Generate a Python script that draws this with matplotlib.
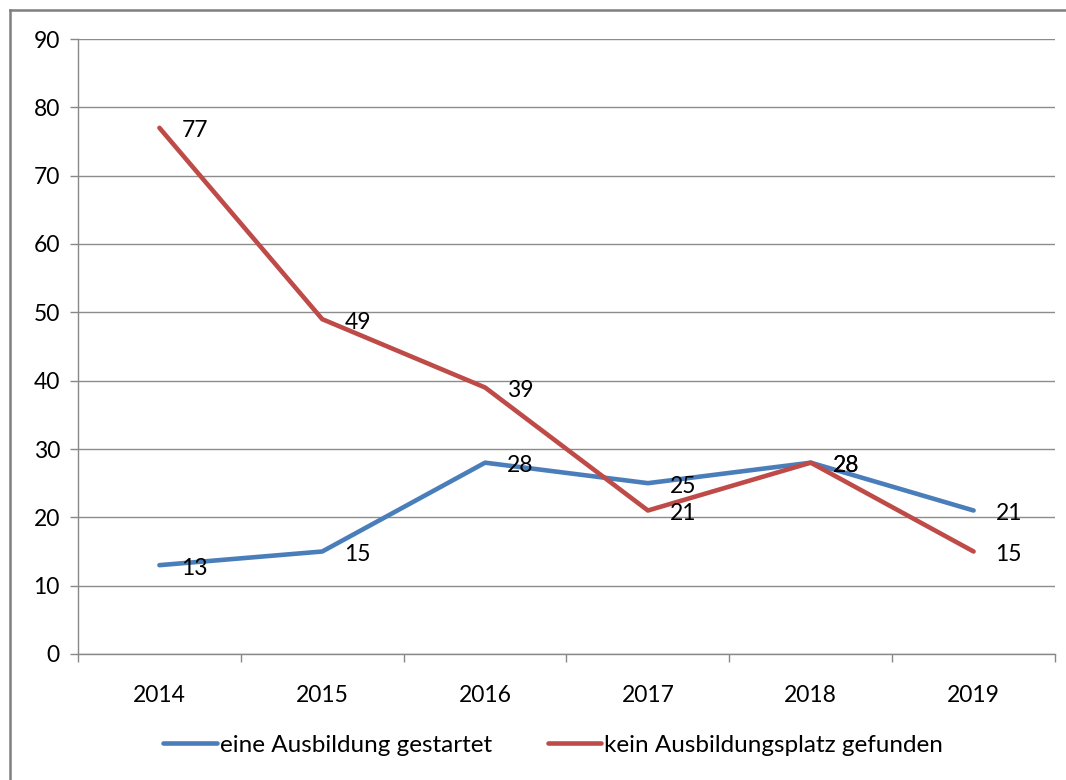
import matplotlib.pyplot as plt
from matplotlib.lines import Line2D

years = ['2014', '2015', '2016', '2017', '2018', '2019']
gestartet = [13, 15, 28, 25, 28, 21]
kein_platz = [77, 49, 39, 21, 28, 15]
labels = ['eine Ausbildung gestartet', 'kein Ausbildungsplatz gefunden']

plt.rcParams['font.family'] = ['Lato', 'DejaVu Sans']

fig = plt.figure(figsize=(10.66, 7.8), dpi=100)
ax = fig.add_axes([78 / 1066, 1 - 654 / 780, 977 / 1066, 615 / 780])

x = range(len(years))
blue = '#4A7EBB'
red = '#BE4B48'
ax.plot(x, gestartet, color=blue, linewidth=3.3, label=labels[0], solid_capstyle='round')
ax.plot(x, kein_platz, color=red, linewidth=3.3, label=labels[1], solid_capstyle='round')

# data labels to the right of each point
for series in (gestartet, kein_platz):
    for i, v in enumerate(series):
        ax.annotate(str(v), (i, v), xytext=(22, -3), textcoords='offset pixels',
                    ha='left', va='center', fontsize=16.5, color='black')

ax.set_xlim(-0.5, 5.5)
ax.set_ylim(0, 90)
ax.set_yticks(range(0, 91, 10))
ax.set_xticks(x)
ax.set_xticklabels(years)
ax.set_xticks([i - 0.5 for i in range(7)], minor=True)
ax.tick_params(axis='x', which='major', length=0, pad=22, labelsize=16.5)
ax.tick_params(axis='x', which='minor', length=6, color='#888888', width=1)
ax.tick_params(axis='y', length=6, color='#888888', width=1, pad=7, labelsize=16.5)

ax.grid(axis='y', color='#8C8C8C', linewidth=1)
ax.set_axisbelow(True)
for s in ['top', 'right']:
    ax.spines[s].set_visible(False)
for s in ['left', 'bottom']:
    ax.spines[s].set_color('#888888')
    ax.spines[s].set_linewidth(1)

leg = fig.legend(loc='center', bbox_to_anchor=(553 / 1066, 1 - 745 / 780), ncol=2,
                 frameon=False, fontsize=17.5, handlelength=2.2, handletextpad=0.12,
                 columnspacing=2.3)

# outer chart frame
fig.add_artist(Line2D([9.5 / 1066, 9.5 / 1066], [0, 1 - 9.5 / 780], transform=fig.transFigure,
                      color='#7F7F7F', linewidth=1.8))
fig.add_artist(Line2D([9.5 / 1066, 1], [1 - 9.5 / 780, 1 - 9.5 / 780], transform=fig.transFigure,
                      color='#7F7F7F', linewidth=1.8))

fig.savefig('out.png', dpi=100)
